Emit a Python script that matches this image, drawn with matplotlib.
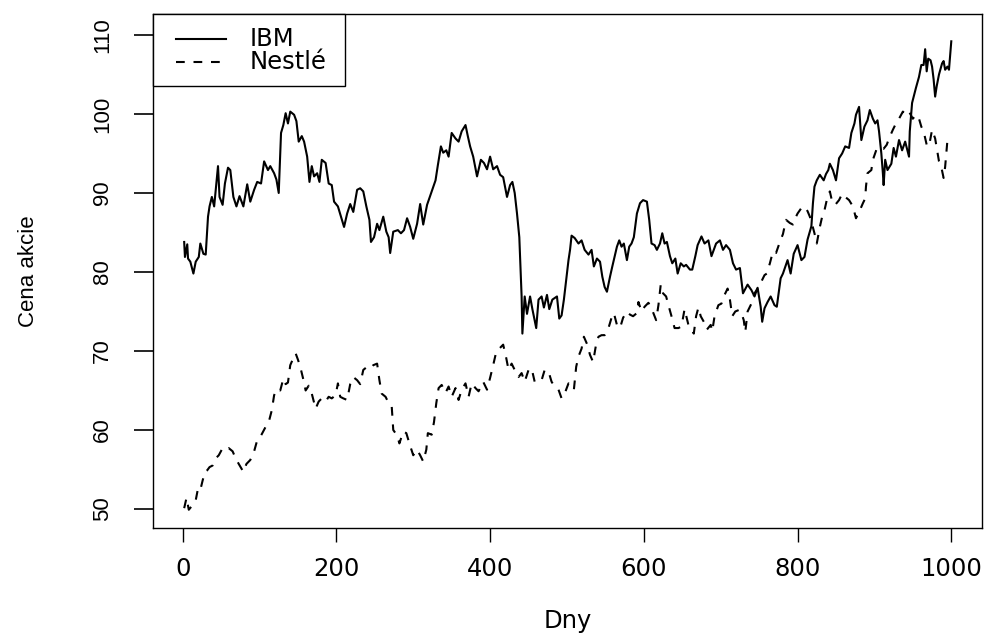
import matplotlib
matplotlib.use("Agg")
import matplotlib.pyplot as plt
from matplotlib.patches import Rectangle

# ---- data (day, price) ----
ibm_days = [2, 3, 6, 7, 10, 14, 17, 21, 23, 27, 30, 33, 35, 38, 41, 43, 46, 48, 52, 55,
            59, 62, 66, 70, 74, 79, 84, 88, 93, 97, 102, 106, 111, 114, 119, 122, 125, 128, 131, 134,
            137, 140, 145, 148, 151, 155, 158, 162, 165, 168, 171, 175, 178, 181, 186, 190, 194, 197, 202, 206,
            210, 214, 218, 222, 227, 231, 235, 239, 243, 245, 249, 253, 256, 261, 265, 268, 270, 274, 280, 284,
            288, 292, 296, 300, 305, 309, 313, 318, 324, 329, 332, 336, 339, 343, 346, 350, 355, 359, 363, 368,
            371, 374, 378, 383, 388, 392, 396, 400, 404, 409, 413, 417, 422, 426, 429, 432, 435, 438, 440, 441,
            442, 445, 448, 452, 455, 460, 463, 467, 470, 474, 477, 481, 487, 490, 493, 496, 499, 502, 504, 506,
            510, 515, 519, 523, 528, 532, 535, 539, 543, 546, 549, 552, 556, 559, 565, 568, 571, 574, 578, 581,
            584, 587, 591, 595, 599, 604, 607, 610, 614, 617, 621, 624, 627, 630, 634, 637, 641, 644, 648, 652,
            655, 660, 663, 667, 670, 675, 679, 684, 688, 691, 694, 699, 703, 707, 712, 716, 720, 725, 729, 735,
            740, 744, 748, 752, 754, 757, 761, 765, 770, 773, 776, 778, 781, 787, 791, 795, 800, 805, 809, 813,
            818, 820, 822, 825, 829, 834, 837, 840, 842, 846, 850, 854, 858, 862, 867, 870, 874, 876, 880, 883,
            887, 891, 894, 898, 901, 904, 906, 909, 911, 912, 914, 917, 922, 925, 928, 932, 936, 940, 945, 946,
            949, 954, 958, 961, 964, 966, 968, 970, 973, 975, 977, 979, 981, 984, 988, 990, 992, 995, 997, 1000]
ibm_price = [83.8, 81.9, 83.5, 81.7, 81.3, 79.8, 81.3, 81.9, 83.6, 82.3, 82.2, 87.0, 88.3, 89.5, 88.3, 90.4, 93.4, 89.5, 88.5, 91.2,
             93.2, 92.9, 89.5, 88.3, 89.6, 88.3, 91.1, 88.9, 90.4, 91.4, 91.2, 94.0, 92.9, 93.4, 92.5, 91.7, 90.0, 97.6, 98.6, 100.1,
             98.8, 100.3, 99.9, 99.1, 96.5, 97.2, 96.5, 94.6, 91.4, 93.4, 92.1, 92.5, 91.4, 94.2, 93.8, 91.2, 91.0, 88.9, 88.3, 87.0,
             85.7, 87.4, 88.6, 87.6, 90.4, 90.6, 90.2, 88.3, 86.6, 83.8, 84.4, 86.1, 85.3, 87.0, 85.1, 84.4, 82.4, 85.1, 85.3, 84.9,
             85.3, 86.8, 85.7, 84.2, 86.1, 88.6, 86.0, 88.5, 90.2, 91.6, 93.5, 95.9, 95.1, 95.4, 94.6, 97.6, 96.9, 96.5, 97.8, 98.6,
             97.2, 95.9, 94.6, 92.1, 94.2, 93.8, 93.0, 94.6, 93.0, 93.4, 92.3, 92.0, 89.5, 91.0, 91.4, 90.0, 87.4, 84.4, 79.4, 76.9,
             72.2, 76.9, 74.7, 76.9, 75.3, 72.9, 76.5, 76.9, 75.5, 77.1, 75.3, 76.5, 76.9, 74.1, 74.5, 76.5, 79.0, 81.5, 82.8, 84.6,
             84.3, 83.6, 84.0, 82.8, 82.2, 82.8, 80.7, 81.7, 81.3, 79.4, 78.1, 77.5, 79.4, 80.7, 83.2, 84.0, 83.2, 83.6, 81.5, 83.2,
             83.6, 84.4, 87.4, 88.7, 89.1, 88.9, 86.6, 83.6, 83.4, 82.8, 83.6, 84.9, 83.6, 83.8, 82.0, 81.1, 81.7, 79.8, 81.1, 80.7,
             80.9, 80.3, 80.3, 82.0, 83.4, 84.5, 83.6, 84.0, 82.0, 82.8, 83.6, 84.0, 82.8, 83.4, 82.8, 81.1, 80.3, 80.5, 77.3, 78.4,
             77.7, 76.9, 78.0, 75.6, 73.7, 75.4, 76.2, 76.9, 75.8, 75.6, 77.7, 79.2, 79.8, 81.5, 79.8, 82.3, 83.4, 81.5, 81.9, 84.1,
             85.8, 88.7, 90.8, 91.6, 92.3, 91.6, 92.4, 92.9, 93.7, 92.9, 91.6, 94.4, 95.0, 95.9, 95.7, 97.6, 98.8, 99.9, 100.9, 96.7,
             98.4, 99.2, 100.5, 99.4, 98.8, 99.2, 97.8, 95.0, 92.5, 91.0, 94.2, 92.9, 93.7, 95.7, 94.6, 96.7, 95.4, 96.5, 94.6, 97.8,
             101.4, 103.3, 104.7, 106.2, 106.2, 108.2, 105.4, 107.0, 106.8, 106.0, 104.4, 102.2, 103.5, 105.0, 106.4, 106.7, 105.6, 106.0, 105.6, 109.2]

nestle_days = [2, 5, 8, 13, 17, 20, 23, 26, 29, 32, 35, 39, 43, 47, 52, 56, 60, 65, 69, 73,
               79, 83, 88, 93, 97, 102, 108, 112, 116, 119, 123, 127, 131, 134, 137, 140, 144, 147, 150, 153,
               157, 160, 164, 168, 173, 177, 181, 186, 190, 194, 199, 202, 205, 209, 214, 218, 222, 227, 231, 235,
               240, 244, 248, 253, 256, 259, 264, 268, 272, 274, 279, 282, 287, 291, 295, 300, 305, 309, 313, 317,
               319, 324, 327, 330, 333, 337, 342, 346, 350, 355, 359, 363, 368, 372, 376, 381, 385, 391, 396, 400,
               404, 408, 412, 417, 421, 424, 428, 432, 437, 441, 445, 450, 454, 458, 463, 467, 471, 476, 480, 484,
               489, 493, 497, 502, 506, 509, 512, 515, 519, 522, 526, 530, 534, 538, 541, 545, 549, 554, 558, 561,
               565, 569, 573, 578, 582, 586, 591, 593, 597, 601, 606, 610, 616, 619, 622, 625, 629, 632, 636, 640,
               645, 649, 653, 658, 662, 665, 668, 671, 674, 678, 682, 687, 689, 692, 697, 701, 705, 709, 712, 715,
               719, 724, 727, 730, 732, 735, 740, 744, 748, 753, 757, 760, 764, 768, 772, 777, 781, 785, 790, 794,
               797, 800, 805, 809, 813, 816, 819, 822, 825, 829, 832, 835, 838, 842, 845, 849, 854, 858, 862, 867,
               872, 876, 881, 885, 888, 889, 891, 896, 898, 903, 906, 912, 916, 919, 924, 928, 932, 937, 941, 945,
               950, 954, 958, 961, 964, 968, 971, 975, 979, 982, 984, 987, 990, 992, 995, 1000]
nestle_price = [50.1, 51.4, 49.9, 50.5, 51.1, 52.6, 52.4, 53.6, 54.7, 54.9, 55.3, 55.5, 56.4, 56.8, 57.7, 57.5, 57.7, 57.3, 56.4, 55.7,
                54.7, 55.7, 56.2, 57.3, 58.7, 59.3, 60.4, 61.0, 62.5, 64.4, 65.2, 65.0, 66.5, 65.8, 66.0, 68.2, 69.1, 69.7, 68.9, 68.0,
                66.4, 65.0, 65.6, 64.6, 62.7, 63.6, 64.0, 63.6, 64.2, 64.0, 64.4, 65.9, 64.2, 64.0, 63.8, 65.8, 66.7, 66.3, 65.8, 67.6,
                68.0, 67.8, 68.2, 68.4, 66.3, 64.6, 64.2, 63.4, 63.0, 60.0, 59.3, 58.3, 59.8, 59.6, 58.3, 56.8, 57.5, 56.8, 56.0, 57.5,
                59.6, 59.4, 61.0, 63.4, 65.3, 65.7, 64.7, 65.5, 64.2, 65.3, 63.8, 65.1, 65.9, 64.2, 65.9, 65.3, 64.9, 66.1, 65.1, 66.6,
                68.2, 69.9, 70.3, 70.8, 69.1, 67.6, 68.4, 67.6, 66.7, 67.2, 66.1, 67.6, 67.8, 66.1, 66.1, 66.3, 67.6, 67.4, 66.1, 65.5,
                65.1, 64.0, 64.6, 65.9, 65.7, 65.1, 68.0, 69.3, 70.3, 71.8, 70.9, 69.5, 68.6, 70.9, 71.8, 72.0, 72.0, 72.9, 74.2, 74.8,
                73.3, 72.9, 74.2, 75.0, 74.6, 74.4, 74.8, 76.2, 75.0, 75.6, 76.1, 75.4, 73.9, 75.8, 78.4, 77.3, 76.9, 75.8, 74.4, 72.9,
                72.9, 73.1, 75.3, 73.3, 72.7, 72.2, 74.4, 75.5, 74.4, 73.7, 72.7, 73.3, 72.5, 74.4, 75.8, 76.0, 77.1, 77.9, 76.5, 74.4,
                75.0, 75.2, 74.8, 73.9, 72.4, 75.0, 76.0, 77.3, 77.9, 78.8, 79.6, 79.8, 81.1, 82.6, 82.4, 83.8, 84.8, 86.6, 86.2, 86.0,
                86.8, 87.4, 88.1, 88.3, 87.7, 87.0, 86.0, 84.9, 83.6, 85.7, 87.0, 87.8, 89.1, 90.2, 88.9, 88.5, 89.1, 89.9, 89.5, 89.1,
                88.3, 86.8, 87.8, 88.7, 89.3, 90.8, 92.5, 92.9, 94.2, 95.6, 95.8, 95.6, 96.1, 96.9, 98.0, 98.8, 99.4, 100.3, 99.9, 100.3,
                99.4, 99.9, 99.4, 98.4, 97.8, 96.1, 95.9, 98.0, 96.9, 95.2, 94.0, 93.3, 91.9, 93.3, 96.7, 97.1]

series_labels = ["IBM", "Nestlé"]
x_ticks = [0, 200, 400, 600, 800, 1000]
y_ticks = [50, 60, 70, 80, 90, 100, 110]

H_FONT = "DejaVu Sans"       # horizontal text (original looks stretched sideways)
V_FONT = "Liberation Sans"   # rotated text
H_SIZE = 17.5
V_SIZE = 16

W, H = 989, 634
fig = plt.figure(figsize=(W / 100, H / 100), dpi=100)
ax_l, ax_r, ax_t, ax_b = 152.7, 982.0, 13.5, 528.0
ax = fig.add_axes([ax_l / W, 1 - ax_b / H, (ax_r - ax_l) / W, (ax_b - ax_t) / H])

lw = 1.5
dash = (0, (4.2, 4.2))
ax.plot(ibm_days, ibm_price, color="black", lw=lw, solid_joinstyle="round")
ax.plot(nestle_days, nestle_price, color="black", lw=lw, linestyle=dash)

ax.set_xlim(-38.96, 1039.96)
ax.set_ylim(47.59, 112.72)
ax.set_xticks(x_ticks)
ax.set_yticks(y_ticks)
ax.set_xticklabels([str(v) for v in x_ticks], fontfamily=H_FONT, fontsize=H_SIZE)
ax.set_yticklabels([str(v) for v in y_ticks], fontfamily=V_FONT, fontsize=V_SIZE,
                   rotation=90, va="center")
ax.tick_params(axis="x", direction="out", length=10, width=1.0, pad=11)
ax.tick_params(axis="y", direction="out", length=13.7, width=1.2, pad=15)
for s in ax.spines.values():
    s.set_linewidth(1.0)
    s.set_color("black")

ax.set_xlabel("Dny", fontfamily=H_FONT, fontsize=H_SIZE, labelpad=20)
ax.set_ylabel("Cena akcie", fontfamily=V_FONT, fontsize=V_SIZE, labelpad=38)

# legend, drawn as in the R output (box flush with the top-left corner)
def fx(px):
    return (px - ax_l) / (ax_r - ax_l)

def fy(py):
    return (ax_b - py) / (ax_b - ax_t)

ax.add_patch(Rectangle((0, fy(86)), fx(345), 1 - fy(86), transform=ax.transAxes,
                       fill=True, facecolor="white", edgecolor="black", lw=1.0, clip_on=False, zorder=5))
ax.plot([fx(176), fx(226)], [fy(39), fy(39)], transform=ax.transAxes, color="black", lw=lw, zorder=6)
ax.plot([fx(176), fx(226)], [fy(62), fy(62)], transform=ax.transAxes, color="black", lw=lw,
        linestyle=dash, zorder=6)
ax.text(fx(250), fy(39), series_labels[0], transform=ax.transAxes, va="center", ha="left",
        fontfamily=H_FONT, fontsize=H_SIZE, zorder=6)
ax.text(fx(250), fy(62), series_labels[1], transform=ax.transAxes, va="center", ha="left",
        fontfamily=H_FONT, fontsize=H_SIZE, zorder=6)

fig.savefig("out.png", dpi=100)
